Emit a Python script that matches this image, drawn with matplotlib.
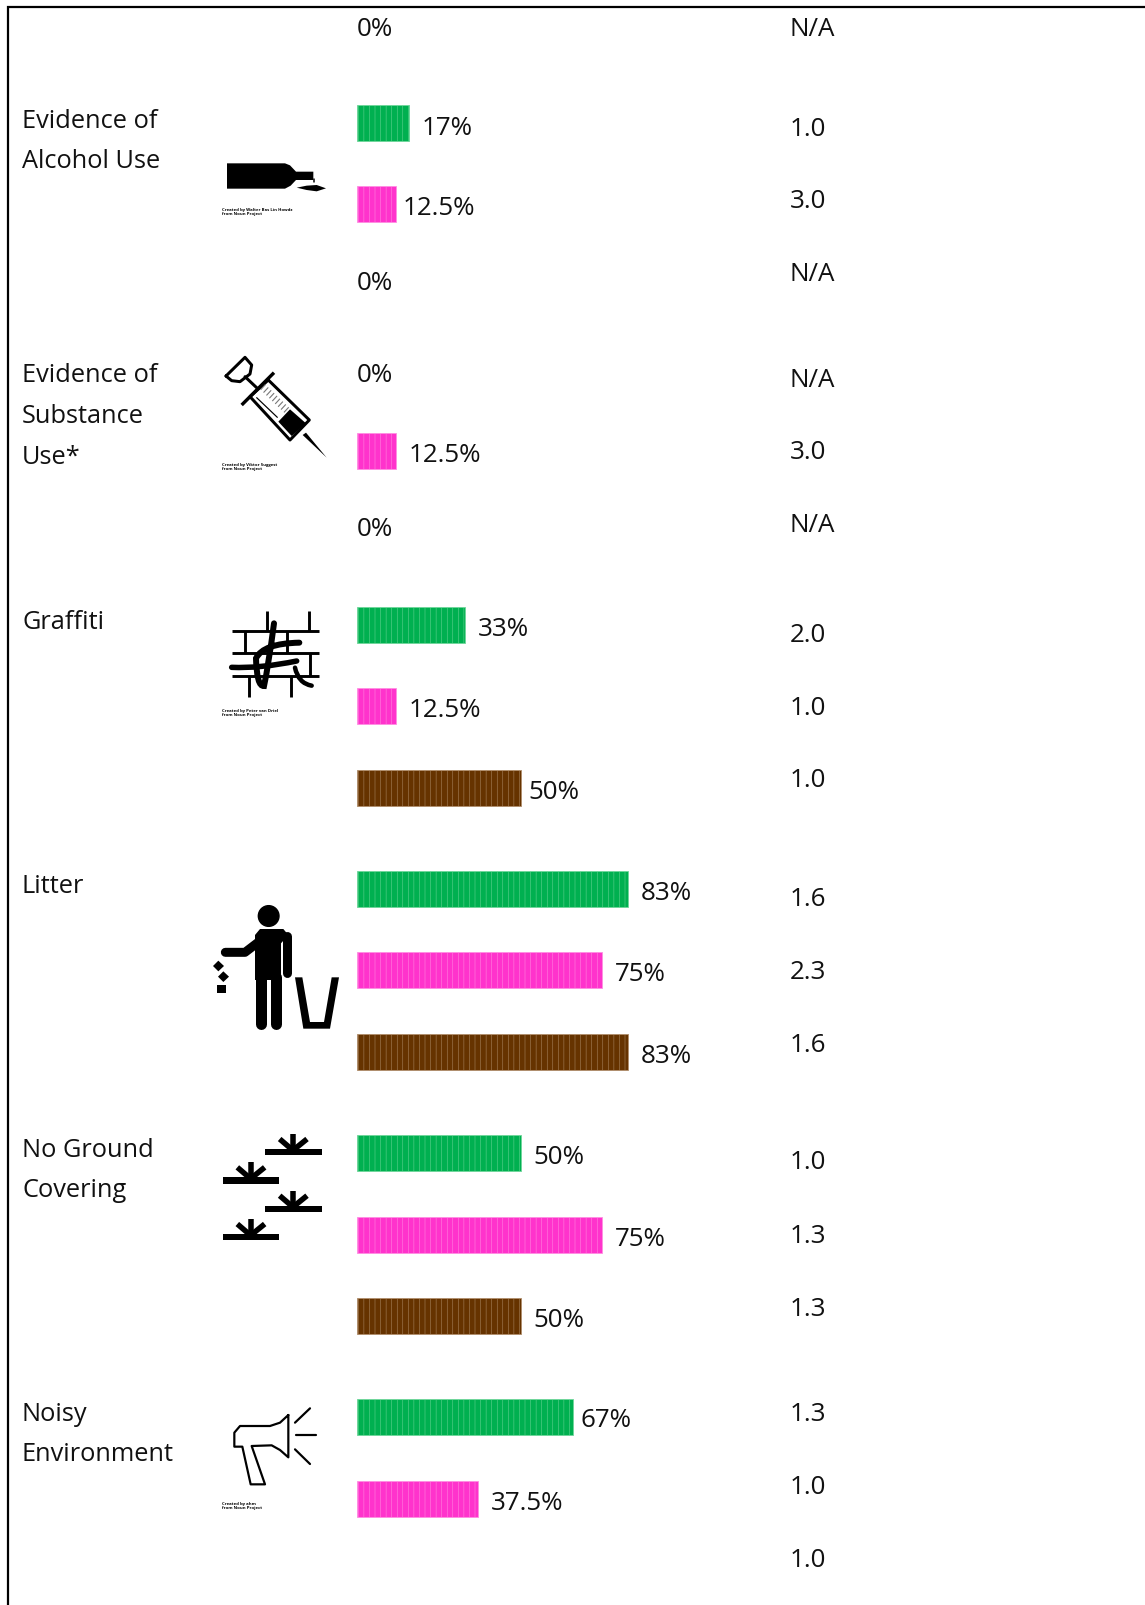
import numpy as np
import matplotlib
matplotlib.use('Agg')
import matplotlib.pyplot as plt
from matplotlib.patches import Circle, Polygon, Rectangle, PathPatch
from matplotlib.path import Path

plt.rcParams['font.family'] = ['Open Sans', 'DejaVu Sans']
plt.rcParams['hatch.linewidth'] = 0.35

# Text
categories = ['Evidence of\nAlcohol Use', 'Evidence of\nSubstance\nUse*', 'Graffiti',
              'Litter', 'No Ground\nCovering', 'Noisy\nEnvironment']
pct_labels = ['0%', '17%', '12.5%', '0%', '0%', '12.5%', '0%', '33%', '12.5%', '50%',
              '83%', '75%', '83%', '50%', '75%', '50%', '67%', '37.5%']
ratio_labels = ['N/A', '1.0', '3.0', 'N/A', 'N/A', '3.0', 'N/A', '2.0', '1.0', '1.0',
                '1.6', '2.3', '1.6', '1.0', '1.3', '1.3', '1.3', '1.0', '1.0']

# Bar lengths as drawn (percent scale)
bar_lengths = [0, 16, 12, 0, 0, 12, 0, 33, 12, 50, 83, 75, 83, 50, 75, 50, 66, 37]
bar_kinds = ['b', 'g', 'p', 'b', 'g', 'p', 'b', 'g', 'p', 'b', 'g', 'p', 'b', 'g', 'p', 'b', 'g', 'p']

colors = {'g': '#00b050', 'p': '#ff33cc', 'b': '#663300'}
edges = {'g': '#6fd69a', 'p': '#ff8ee2', 'b': '#b08e6c'}

# Layout, in pixels of the 1145x1605 picture
W, H = 1145, 1605
cat_y = [118, 372.5, 619, 883, 1147, 1411]
cat_x = 22
line_gap = 40.7
pct_y = [26, 125, 205.5, 280, 372.5, 452, 526, 626, 707, 789, 890, 971, 1053, 1154, 1236, 1317, 1417, 1500]
pct_x = [357, 422, 403, 357, 357, 409, 357, 478, 409, 528, 641, 615, 641, 533.5, 615, 533.5, 580, 491]
bar_y = [26, 123, 204, 280, 372, 451, 526, 625, 706, 788, 889, 970, 1052, 1153, 1235, 1316, 1417, 1499]
ratio_x = 789.5
ratio_y = [26, 126, 198.5, 271, 377.5, 449, 522, 632, 705, 777.5, 896, 969, 1042, 1159.5, 1233, 1306, 1411, 1484, 1557]
text_shift = 3.2
fs_words = 25.4 * 72 / 100
fs_numbers = 26.0 * 72 / 100

fig = plt.figure(figsize=(W / 100, H / 100), dpi=100, facecolor='white')
ax = fig.add_axes([0, 0, 1, 1])
ax.set_xlim(0, W)
ax.set_ylim(H, 0)
ax.axis('off')

# Bars get their own axis: 100% is 327 px
ax_bar = fig.add_axes([357 / W, 0, 327 / W, 1])
ax_bar.set_xlim(0, 100)
ax_bar.set_ylim(H, 0)
ax_bar.axis('off')
ax_bar.patch.set_alpha(0)

for y, length, kind in zip(bar_y, bar_lengths, bar_kinds):
    if length > 0:
        ax_bar.barh(y, length, height=36, color=colors[kind], edgecolor=edges[kind],
                    linewidth=0.6, hatch='|||')

# Frame
ax.plot([8, 8, W], [H, 6.5, 6.5], color='black', lw=1.6, solid_capstyle='butt', solid_joinstyle='miter')

for label, y in zip(categories, cat_y):
    for i, part in enumerate(label.split('\n')):
        ax.text(cat_x, y + i * line_gap + text_shift, part, fontsize=fs_words, va='center', ha='left', color='#111111')
for label, x, y in zip(pct_labels, pct_x, pct_y):
    ax.text(x, y + text_shift, label, fontsize=fs_numbers, va='center', ha='left', color='#111111')
for label, y in zip(ratio_labels, ratio_y):
    ax.text(ratio_x, y + text_shift, label, fontsize=fs_numbers, va='center', ha='left', color='#111111')


def to_px(points, ox, oy):
    # crop coordinates (3x) to picture pixels
    return [(ox + x / 3, oy + y / 3) for x, y in points]


def stroke(points, ox, oy, width, cap='round'):
    pts = np.array(to_px(points, ox, oy))
    ax.plot(pts[:, 0], pts[:, 1], color='black', lw=width * 0.72, solid_capstyle=cap, solid_joinstyle='round')


def blob(points, ox, oy, fill='black'):
    ax.add_patch(Polygon(to_px(points, ox, oy), closed=True, facecolor=fill, edgecolor='none'))


def curve(points, ox, oy, width):
    pts = to_px(points, ox, oy)
    codes = [Path.MOVETO] + [Path.CURVE3] * (len(pts) - 1)
    ax.add_patch(PathPatch(Path(pts, codes), facecolor='none', edgecolor='black',
                           lw=width * 0.72, capstyle='round'))


def credit(x, y, first):
    ax.text(x, y, first, fontsize=3.1, va='center', ha='left', color='black', fontweight='bold')
    ax.text(x, y + 4.3, 'from Noun Project', fontsize=3.1, va='center', ha='left', color='black', fontweight='bold')


# Bottle
ox, oy = 200, 130
blob([(81, 100), (255, 100), (270, 106), (288, 125), (340, 125), (340, 150), (288, 150),
      (272, 167), (255, 176), (81, 176)], ox, oy)
blob([(290, 173), (320, 167), (350, 165), (378, 175), (350, 184), (320, 180)], ox, oy)
stroke([(343, 148), (343, 156)], ox, oy, 1.5)
credit(222, 210, 'Created by Walter Bas Lin Howdz')

# Syringe
stroke([(78, 738), (135, 682), (155, 705), (150, 732), (120, 755), (95, 752), (78, 738)], ox, oy, 3.0)
stroke([(135, 740), (172, 775)], ox, oy, 3.0)
stroke([(222, 728), (125, 825)], ox, oy, 3.4, cap='butt')
stroke([(205, 750), (328, 870), (270, 930), (150, 800), (205, 750)], ox, oy, 3.0)
blob([(270, 838), (318, 880), (275, 918), (235, 875)], ox, oy)
stroke([(170, 803), (232, 862)], ox, oy, 1.2)
for t in np.linspace(0, 1, 9):
    sx, sy = 195 + 70 * t, 765 + 68 * t
    ax.plot(*zip(*to_px([(sx, sy), (sx - 12, sy + 13)], ox, oy)), color='#777777', lw=0.8)
blob([(308, 915), (318, 908), (380, 983)], ox, oy)
credit(222, 465, 'Created by Viktor Suggest')

# Graffiti wall
ox, oy = 200, 590
for yy in [123, 190, 259]:
    stroke([(97, yy), (358, yy)], ox, oy, 2.9, cap='butt')
for xx, y0, y1 in [(201, 62, 123), (328, 62, 123), (135, 123, 190), (262, 123, 190),
                   (330, 190, 259), (148, 259, 320), (274, 259, 320)]:
    stroke([(xx, y0), (xx, y1)], ox, oy, 2.9, cap='butt')
curve([(95, 232), (180, 236), (290, 213)], ox, oy, 5.5)
curve([(298, 158), (190, 160), (168, 205), (170, 290), (192, 288), (205, 230), (222, 100)], ox, oy, 6.0)
curve([(285, 233), (295, 280), (335, 287)], ox, oy, 4.5)
credit(222, 711, 'Created by Peter van Driel')

# Person with litter
ax.add_patch(Circle((ox + 206 / 3, oy + 978 / 3), 31 / 3, color='black'))
blob([(165, 1035), (180, 1017), (250, 1017), (265, 1035), (243, 1060), (243, 1170), (165, 1170)], ox, oy)
stroke([(262, 1038), (262, 1150)], ox, oy, 9)
stroke([(190, 1045), (135, 1087), (76, 1087)], ox, oy, 9)
stroke([(182, 1160), (182, 1302)], ox, oy, 11)
stroke([(227, 1160), (227, 1302)], ox, oy, 11)
blob([(55, 1112), (72, 1128), (55, 1144), (39, 1128)], ox, oy)
blob([(70, 1144), (87, 1160), (70, 1176), (54, 1160)], ox, oy)
blob([(52, 1185), (77, 1185), (77, 1210), (52, 1210)], ox, oy)
blob([(285, 1162), (307, 1162), (330, 1296), (372, 1296), (395, 1162), (417, 1162),
      (390, 1316), (310, 1316)], ox, oy)

# Ground tufts
ox, oy = 200, 1120
for x0, base in [(195, 87), (68, 172), (195, 257), (68, 342)]:
    ax.add_patch(Rectangle((ox + x0 / 3, oy + base / 3), 170 / 3, 19 / 3, color='black', lw=0))
    cx = x0 + 84
    stroke([(cx, base), (cx, base - 45)], ox, oy, 5.5, cap='butt')
    stroke([(cx - 5, base), (cx - 40, base - 30)], ox, oy, 5.5, cap='butt')
    stroke([(cx + 5, base), (cx + 42, base - 30)], ox, oy, 5.5, cap='butt')

# Megaphone
stroke([(265, 885), (265, 1012), (240, 990), (215, 976), (155, 978), (195, 1093), (152, 1093),
        (127, 980), (103, 980), (103, 938), (120, 918), (210, 918), (240, 908), (265, 885)], ox, oy, 2.2)
stroke([(285, 908), (330, 865)], ox, oy, 2.2)
stroke([(288, 946), (348, 946)], ox, oy, 2.2)
stroke([(285, 988), (330, 1032)], ox, oy, 2.2)
credit(222, 1504, 'Created by ahm')

fig.savefig('out.png', dpi=100)
